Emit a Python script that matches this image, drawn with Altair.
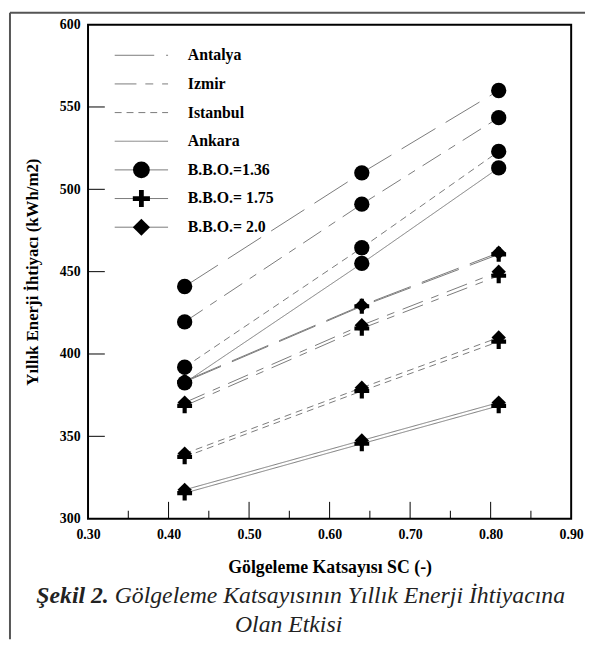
import altair as alt
import pandas as pd

# ---- data ----
sc_values = [0.42, 0.64, 0.81]
cities = ["Antalya", "Izmir", "Istanbul", "Ankara"]
bbo_levels = ["1.36", "1.75", "2.0"]
bbo_labels = ["B.B.O.=1.36", "B.B.O.= 1.75", "B.B.O.= 2.0"]

antalya_136 = [441, 510, 560]
izmir_136 = [419.5, 491, 543.5]
istanbul_136 = [392, 464.5, 523]
ankara_136 = [382.5, 455, 513]

antalya_175 = [383, 429, 460.5]
izmir_175 = [368.5, 415.5, 447.5]
istanbul_175 = [337.5, 377.5, 407.5]
ankara_175 = [315.5, 345.5, 368.5]

antalya_20 = [383.5, 429.5, 461.5]
izmir_20 = [370.5, 417.5, 450]
istanbul_20 = [339.5, 379.5, 410]
ankara_20 = [317.5, 347.5, 370.5]

x_tick_labels = [0.30, 0.40, 0.50, 0.60, 0.70, 0.80, 0.90]
x_major_ticks = [0.40, 0.50, 0.60, 0.70, 0.80]
x_minor_ticks = [0.35, 0.45, 0.55, 0.65, 0.75, 0.85]
y_tick_labels = [300, 350, 400, 450, 500, 550, 600]
y_major_ticks = [350, 400, 450, 500, 550]

series = {
    ("Antalya", "1.36"): antalya_136, ("Izmir", "1.36"): izmir_136,
    ("Istanbul", "1.36"): istanbul_136, ("Ankara", "1.36"): ankara_136,
    ("Antalya", "1.75"): antalya_175, ("Izmir", "1.75"): izmir_175,
    ("Istanbul", "1.75"): istanbul_175, ("Ankara", "1.75"): ankara_175,
    ("Antalya", "2.0"): antalya_20, ("Izmir", "2.0"): izmir_20,
    ("Istanbul", "2.0"): istanbul_20, ("Ankara", "2.0"): ankara_20,
}

rows = []
for (city, bbo), vals in series.items():
    for x, v in zip(sc_values, vals):
        rows.append({"sc": x, "val": v, "city": city, "bbo": bbo, "key": city + bbo})
df = pd.DataFrame(rows)

SERIF = "Liberation Serif"
LINE_GRAY = "#7a7a7a"
dash_range = [[40, 12], [22, 9, 8, 9], [7, 5], [1, 0]]
PLUS = "M-1,-0.28H-0.28V-1H0.28V-0.28H1V0.28H0.28V1H-0.28V0.28H-1Z"

xscale = alt.Scale(domain=[0.3, 0.9], nice=False, zero=False)
yscale = alt.Scale(domain=[300, 600], nice=False, zero=False)

xaxis = alt.Axis(values=x_tick_labels, format=".2f", labelFont=SERIF, labelFontWeight="bold",
                 labelFontSize=14, labelColor="black", labelPadding=9, labelFlush=False,
                 ticks=False, grid=False, domain=False,
                 title="Gölgeleme Katsayısı SC (-)", titleFont=SERIF, titleFontSize=18,
                 titleFontWeight="bold", titleColor="black", titlePadding=17)
yaxis = alt.Axis(values=y_tick_labels, format="d", labelFont=SERIF, labelFontWeight="bold",
                 labelFontSize=14, labelColor="black", labelPadding=8, labelFlush=False,
                 ticks=False, grid=False, domain=False,
                 title="Yıllık Enerji İhtiyacı (kWh/m2)", titleFont=SERIF, titleFontSize=17,
                 titleFontWeight="bold", titleColor="black", titlePadding=18)

base = alt.Chart(df)

lines = base.mark_line(color=LINE_GRAY, strokeWidth=1).encode(
    x=alt.X("sc:Q", scale=xscale, axis=xaxis),
    y=alt.Y("val:Q", scale=yscale, axis=yaxis),
    strokeDash=alt.StrokeDash("city:N", scale=alt.Scale(domain=cities, range=dash_range), legend=None),
    detail="key:N",
)

def pts(bbo, shape, size):
    return base.transform_filter(alt.datum.bbo == bbo).mark_point(
        shape=shape, filled=True, color="black", opacity=1, size=size, strokeWidth=0
    ).encode(x=alt.X("sc:Q", scale=xscale), y=alt.Y("val:Q", scale=yscale))

plus_pts = pts("1.75", PLUS, 225)
diamond_pts = pts("2.0", "diamond", 210)
circle_pts = pts("1.36", "circle", 240)

xmaj = alt.Chart(pd.DataFrame({"t": x_major_ticks})).mark_rule(color="black", strokeWidth=1).encode(
    x=alt.X("t:Q", scale=xscale), y=alt.value(500), y2=alt.value(483))
xmin = alt.Chart(pd.DataFrame({"t": x_minor_ticks})).mark_rule(color="black", strokeWidth=1).encode(
    x=alt.X("t:Q", scale=xscale), y=alt.value(500), y2=alt.value(492))
ymaj = alt.Chart(pd.DataFrame({"t": y_major_ticks})).mark_rule(color="black", strokeWidth=1).encode(
    y=alt.Y("t:Q", scale=yscale), x=alt.value(0), x2=alt.value(17))

leg_city = pd.DataFrame({"city": cities, "ly": [31, 60, 89, 118]})
leg_bbo = pd.DataFrame({"label": bbo_labels, "bbo": bbo_levels, "ly": [147, 176, 205]})

leg_lines = alt.Chart(leg_city).mark_rule(color=LINE_GRAY, strokeWidth=1).encode(
    x=alt.value(27), x2=alt.value(81),
    y=alt.Y("ly:Q", scale=None, axis=None),
    strokeDash=alt.StrokeDash("city:N", scale=alt.Scale(domain=cities, range=dash_range), legend=None),
)
leg_city_text = alt.Chart(leg_city).mark_text(
    align="left", baseline="middle", font=SERIF, fontWeight="bold", fontSize=16, color="black"
).encode(x=alt.value(101), y=alt.Y("ly:Q", scale=None, axis=None), text="city:N")

leg_bbo_lines = alt.Chart(leg_bbo).mark_rule(color=LINE_GRAY, strokeWidth=1).encode(
    x=alt.value(27), x2=alt.value(81), y=alt.Y("ly:Q", scale=None, axis=None))

def leg_marker(bbo, shape, size):
    return alt.Chart(leg_bbo).transform_filter(alt.datum.bbo == bbo).mark_point(
        shape=shape, filled=True, color="black", opacity=1, size=size, strokeWidth=0
    ).encode(x=alt.value(54), y=alt.Y("ly:Q", scale=None, axis=None))

leg_m1 = leg_marker("1.36", "circle", 290)
leg_m2 = leg_marker("1.75", PLUS, 300)
leg_m3 = leg_marker("2.0", "diamond", 300)

leg_bbo_text = alt.Chart(leg_bbo).mark_text(
    align="left", baseline="middle", font=SERIF, fontWeight="bold", fontSize=16, color="black"
).encode(x=alt.value(101), y=alt.Y("ly:Q", scale=None, axis=None), text="label:N")

cap1a = alt.Chart(pd.DataFrame({"a": [0]})).mark_text(
    text="Şekil 2.", align="right", baseline="middle", font=SERIF, fontStyle="italic",
    fontWeight="bold", fontSize=24, color="#222").encode(x=alt.value(21), y=alt.value(578))
cap1b = alt.Chart(pd.DataFrame({"a": [0]})).mark_text(
    text="Gölgeleme Katsayısının Yıllık Enerji İhtiyacına", align="left", baseline="middle",
    font=SERIF, fontStyle="italic", fontSize=24, color="#222").encode(x=alt.value(27), y=alt.value(578))
cap2 = alt.Chart(pd.DataFrame({"a": [0]})).mark_text(
    text="Olan Etkisi", align="center", baseline="middle",
    font=SERIF, fontStyle="italic", fontSize=24, color="#222").encode(x=alt.value(203), y=alt.value(608))

frame_left = alt.Chart(pd.DataFrame({"a": [0]})).mark_rule(color="#555", strokeWidth=2).encode(
    x=alt.value(-79), y=alt.value(-12), y2=alt.value(622))
frame_top = alt.Chart(pd.DataFrame({"a": [0]})).mark_rule(color="#555", strokeWidth=2).encode(
    x=alt.value(-79), x2=alt.value(503), y=alt.value(-12))

chart = alt.layer(
    frame_left, frame_top,
    lines, xmaj, xmin, ymaj,
    plus_pts, diamond_pts, circle_pts,
    leg_lines, leg_bbo_lines, leg_m1, leg_m2, leg_m3, leg_city_text, leg_bbo_text,
    cap1a, cap1b, cap2,
).properties(
    width=489, height=500,
    autosize=alt.AutoSizeParams(type="none"),
    padding={"left": 81, "top": 13, "right": 14, "bottom": 122},
    background="white",
).configure_view(stroke="black", strokeWidth=2)

chart.save("out.html", embed_options={"renderer": "svg", "actions": False})
